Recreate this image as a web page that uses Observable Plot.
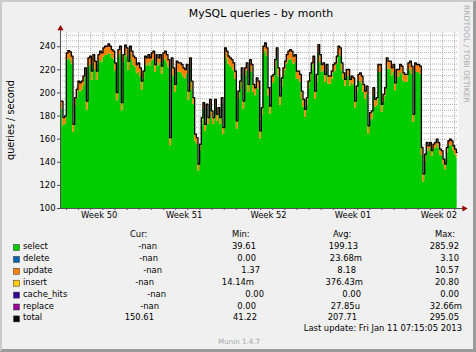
<!DOCTYPE html>
<html><head><meta charset="utf-8">
<script src="https://cdn.jsdelivr.net/npm/d3@7"></script>
<script src="https://cdn.jsdelivr.net/npm/@observablehq/plot@0.6"></script>
<style>
html,body{margin:0;padding:0;background:#f0f0f0;}
#card{position:relative;width:476px;height:352px;background:#f0f0f0;overflow:hidden;font-family:"DejaVu Sans",sans-serif;}
#chart{position:absolute;left:0;top:0;}
#over{position:absolute;left:0;top:0;}
#frame{position:absolute;left:0;top:0;width:476px;height:352px;box-sizing:border-box;border-top:2px solid #cbcbcb;border-left:2px solid #cbcbcb;border-right:3px solid #9a9a9a;border-bottom:3px solid #9a9a9a;pointer-events:none;}
</style></head>
<body>
<div id="card"><div id="chart"></div><svg id="over" width="476" height="352"></svg><div id="frame"></div></div>
<script>
// ---- data ----
// total queries/second, one sample per ~3.3 h over the 33-day window
const totalQ = [
193.0,193.0,178.7,180.1,234.6,236.7,235.5,231.8,172.9,195.9,
203.1,210.3,208.8,210.3,214.6,221.7,193.0,230.3,231.8,218.9,
233.2,227.5,218.9,233.2,236.1,234.6,239.0,240.4,240.4,242.4,
240.4,237.5,236.1,226.0,200.2,237.5,240.4,191.6,233.2,241.3,
239.0,227.5,240.4,236.1,231.8,230.3,224.6,226.0,221.7,210.3,
218.9,231.8,230.3,233.2,230.3,234.6,236.1,224.6,233.2,230.3,
233.2,223.2,234.6,236.1,233.2,228.9,161.4,230.3,221.7,207.4,
227.5,226.0,226.0,224.6,221.7,220.3,224.6,201.6,230.3,210.3,
195.9,164.3,161.4,138.5,155.7,178.7,191.6,172.9,190.2,178.7,
194.5,184.4,178.7,194.5,181.5,187.3,178.7,195.9,170.1,239.0,
236.1,231.8,230.3,228.9,226.0,218.9,175.8,201.6,210.3,221.7,
193.0,221.7,226.0,207.4,228.9,224.6,207.4,204.5,213.1,210.3,
167.2,
187.3,240.4,243.3,239.0,204.5,188.7,214.6,216.0,228.9,239.0,
221.7,197.3,213.1,221.7,227.5,233.2,236.1,237.5,236.1,231.8,
233.2,218.9,218.9,216.0,201.6,194.5,185.8,195.9,210.3,217.4,
226.0,231.8,201.6,216.0,241.8,233.2,224.6,226.0,216.0,224.6,
214.6,214.6,218.9,224.6,226.0,231.8,240.4,239.0,226.0,217.4,
211.7,220.3,220.3,211.7,214.6,213.1,193.0,205.9,216.0,217.4,
214.6,207.4,201.6,205.9,171.5,183.0,184.4,204.5,194.5,195.9,
224.6,224.6,190.2,198.8,204.5,230.3,227.5,227.5,221.7,224.6,
208.8,220.3,220.3,224.6,223.2,217.4,216.0,216.0,226.0,227.5,
223.2,181.5,226.0,224.6,224.6,223.2,152.8,129.9,147.1,157.1,
154.3,157.1,150.0,155.7,157.1,160.0,157.1,151.4,150.0,142.8,
138.5,152.8,158.6,160.0,158.6,154.3,151.4,148.5
];
// update queries/second, one value per block of 10 samples
const updateBlock = [7,8,8,7,8,7,7,8,6,6,7,7,7,8,7,7,7,6,7,7,7,7,5,5];
// x-axis labels and their positions (sample index)
const weekLabels = ["Week 50","Week 51","Week 52","Week 01","Week 02"];
const weekPos = [23.2, 74.2, 124.8, 175.4, 227.0];
const yTicks = [100,120,140,160,180,200,220,240];

// legend table
const seriesNames = ["select","delete","update","insert","cache_hits","replace","total"];
const seriesColors = ["#00cc00","#0066b3","#ff8000","#ffcc00","#330099","#990099","#000000"];
const curVals = ["-nan","-nan","-nan","-nan","-nan","-nan","150.61"];
const minVals = ["39.61","0.00","1.37","14.14m","0.00","0.00","41.22"];
const avgVals = ["199.13","23.68m","8.18","376.43m","0.00","27.85u","207.71"];
const maxVals = ["285.92","3.10","10.57","20.80","0.00","32.66m","295.05"];

const titleText = "MySQL queries - by month";
const yLabel = "queries / second";
const lastUpdate = "Last update: Fri Jan 11 07:15:05 2013";
const watermark = "RRDTOOL / TOBI OETIKER";
const footer = "Munin 1.4.7";

// ---- chart ----
const rows = totalQ.map((t, i) => {
  const u = updateBlock[Math.floor(i / 10)];
  return {i, total: t, select: t - u};
});
const yMin = 100, yMax = 252.3;
const xMax = 238.8;
const samplesPerDay = (weekPos[4] - weekPos[0]) / 28;
const weekStart0 = weekPos[4] - 19.6; // Monday of week 02
const dayTicks = d3.range(weekStart0 - 28 * samplesPerDay, xMax, samplesPerDay).filter(d => d > 0.5);
const minorY = d3.range(105, 252, 5);
const labelOf = new Map(weekPos.map((p, k) => [p, weekLabels[k]]));
const axisColor = "#505050";
const arrowColor = "#9a0000";

const plot = Plot.plot({
  width: 476, height: 226,
  marginLeft: 60, marginRight: 18, marginTop: 32, marginBottom: 18,
  style: {background: "transparent", fontFamily: "DejaVu Sans", fontSize: "8.4px", color: "#000", overflow: "visible"},
  x: {domain: [0, xMax]},
  y: {domain: [yMin, yMax]},
  marks: [
    Plot.frame({fill: "#ffffff", stroke: null}),
    Plot.gridX(dayTicks, {stroke: "#8f8f8f", strokeOpacity: 0.7, strokeDasharray: "1,1"}),
    Plot.gridY(minorY, {stroke: "#8f8f8f", strokeOpacity: 0.7, strokeDasharray: "1,1"}),
    Plot.areaY(rows, {x: "i", y1: yMin, y2: "select", fill: "#00cc00", curve: "step"}),
    Plot.areaY(rows, {x: "i", y1: "select", y2: "total", fill: "#ff8000", curve: "step"}),
    Plot.lineY(rows, {x: "i", y: "total", stroke: "#000", strokeWidth: 1.3, curve: "step"}),
    Plot.axisY(yTicks, {tickSize: 3, tickPadding: 2, label: null, stroke: axisColor, fontSize: 8.4}),
    Plot.axisX(dayTicks, {tickSize: 2, tickFormat: () => "", label: null, stroke: axisColor}),
    Plot.axisX(weekPos, {tickSize: 0, tickPadding: 4, tickFormat: d => labelOf.get(d), label: null, fontSize: 8.4}),
    Plot.ruleY([yMin], {x1: 0, x2: xMax + 3.4, stroke: axisColor, strokeWidth: 1}),
    Plot.ruleX([0], {y1: yMin, y2: yMax + 3, stroke: axisColor, strokeWidth: 1}),
    Plot.dot([{x: xMax + 3.4, y: yMin}], {x: "x", y: "y", symbol: "triangle", r: 2.3, fill: arrowColor, stroke: null, rotate: 90}),
    Plot.dot([{x: 0, y: yMax + 3.5}], {x: "x", y: "y", symbol: "triangle", r: 2.3, fill: arrowColor, stroke: null})
  ]
});
document.getElementById("chart").appendChild(plot);

// ---- texts and legend ----
const svg = d3.select("#over").style("font-family", "'DejaVu Sans', sans-serif");
svg.append("text").attr("x", 261).attr("y", 16.5).attr("text-anchor", "middle")
  .attr("font-size", 10.9).attr("fill", "#000").text(titleText);
svg.append("text").attr("transform", "translate(14,120) rotate(-90)").attr("text-anchor", "middle")
  .attr("font-size", 9.7).attr("fill", "#000").text(yLabel);
svg.append("text").attr("transform", "translate(463.5,5) rotate(90)").attr("text-anchor", "start")
  .attr("font-size", 7.6).attr("fill", "#aaaaaa").text(watermark);

const fs = 8.4;
const header = [["Cur:", 130], ["Min:", 232], ["Avg:", 333], ["Max:", 435]];
header.forEach(([t, x]) => svg.append("text").attr("x", x).attr("y", 237).attr("font-size", fs).text(t));
const curRight = [157, 158, 162, 154, 166, 159, 154];
const minRight = [256, 256, 260, 254, 264, 256, 257];
const avgRight = [358, 362, 356, 363, 361, 360, 357];
const maxRight = [459, 459, 459, 459, 459, 462, 459];
seriesNames.forEach((name, k) => {
  const base = 249 + 11.9 * k;
  svg.append("rect").attr("x", 13.5).attr("y", base - 4.5).attr("width", 6).attr("height", 6)
    .attr("fill", seriesColors[k]).attr("stroke", "#333").attr("stroke-width", 0.5);
  svg.append("text").attr("x", 23).attr("y", base).attr("font-size", fs).text(name);
  svg.append("text").attr("x", curRight[k]).attr("y", base).attr("text-anchor", "end").attr("font-size", fs).text(curVals[k]);
  svg.append("text").attr("x", minRight[k]).attr("y", base).attr("text-anchor", "end").attr("font-size", fs).text(minVals[k]);
  svg.append("text").attr("x", avgRight[k]).attr("y", base).attr("text-anchor", "end").attr("font-size", fs).text(avgVals[k]);
  svg.append("text").attr("x", maxRight[k]).attr("y", base).attr("text-anchor", "end").attr("font-size", fs).text(maxVals[k]);
});
svg.append("text").attr("x", 462).attr("y", 330.5).attr("text-anchor", "end").attr("font-size", fs).text(lastUpdate);
svg.append("text").attr("x", 239).attr("y", 343.5).attr("text-anchor", "middle").attr("font-size", 7.1).attr("fill", "#a8a8a8").text(footer);
</script>
</body></html>
